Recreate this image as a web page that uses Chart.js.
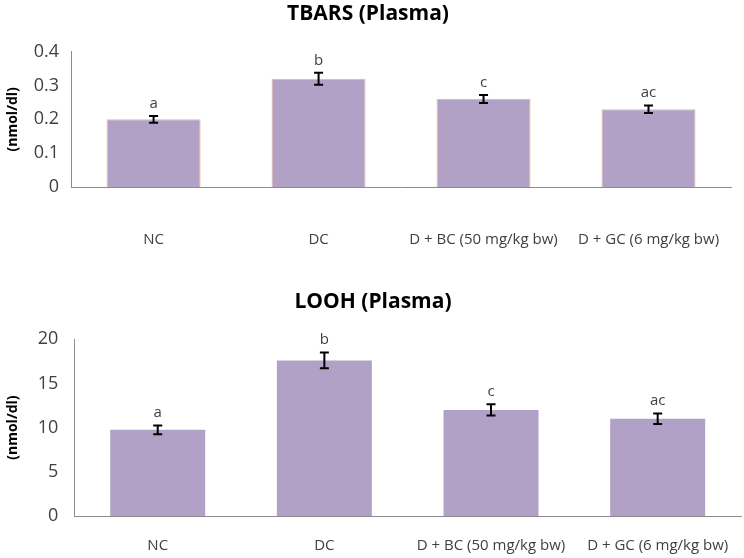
<!DOCTYPE html>
<html>
<head>
<meta charset="utf-8">
<script src="https://cdn.jsdelivr.net/npm/chart.js@4"></script>
<style>
  body { margin: 0; background: #fff; overflow: hidden; }
  .box { position: absolute; left: 0; width: 744px; }
  #boxTop { top: 0; height: 293px; }
  #boxBottom { top: 270px; height: 306px; }
</style>
</head>
<body>
<div class="box" id="boxTop"><canvas id="graficoTbars"></canvas></div>
<div class="box" id="boxBottom"><canvas id="graficoLooh"></canvas></div>
<script>
const grupos = ['NC', 'DC', 'D + BC (50 mg/kg bw)', 'D + GC (6 mg/kg bw)'];

const tbarsValores = [0.20, 0.32, 0.26, 0.23];
const tbarsErros = [0.010, 0.018, 0.012, 0.011];
const tbarsLetras = ['a', 'b', 'c', 'ac'];

const loohValores = [9.75, 17.6, 12.0, 11.0];
const loohErros = [0.5, 0.9, 0.63, 0.6];
const loohLetras = ['a', 'b', 'c', 'ac'];

const fonte = "'Open Sans', sans-serif";

// desenha as barras de erro e as letras acima de cada barra
const errosPlugin = {
    id: 'erros',
    afterDatasetsDraw(chart, args, opts) {
        const ctx = chart.ctx;
        const meta = chart.getDatasetMeta(0);
        const y = chart.scales.y;
        ctx.save();
        meta.data.forEach((bar, i) => {
            const v = opts.valores[i];
            const e = opts.erros[i];
            const yTop = y.getPixelForValue(v + e);
            const yBot = y.getPixelForValue(v - e);
            const x = bar.x;
            ctx.strokeStyle = '#000';
            ctx.lineWidth = 2;
            ctx.beginPath();
            ctx.moveTo(x, yTop); ctx.lineTo(x, yBot);
            ctx.moveTo(x - 4.5, yTop); ctx.lineTo(x + 4.5, yTop);
            ctx.moveTo(x - 4.5, yBot); ctx.lineTo(x + 4.5, yBot);
            ctx.stroke();

            ctx.fillStyle = '#404040';
            ctx.font = '15px ' + fonte;
            ctx.textAlign = 'center';
            ctx.textBaseline = 'alphabetic';
            ctx.fillText(opts.letras[i], x, yTop - 8);
        });
        ctx.restore();
    }
};

function criarGrafico(id, titulo, valores, erros, letras, max, passo, borda, padTitulo, alturaX, padY, padding) {
    const ctx = document.getElementById(id).getContext('2d');
    return new Chart(ctx, {
        type: 'bar',
        data: {
            labels: grupos,
            datasets: [{
                data: valores,
                backgroundColor: '#b2a1c7',
                borderColor: borda,
                borderWidth: borda ? 1 : 0,
                categoryPercentage: 0.57,
                barPercentage: 1
            }]
        },
        plugins: [errosPlugin],
        options: {
            responsive: true,
            maintainAspectRatio: false,
            animation: false,
            layout: { padding: padding },
            plugins: {
                legend: { display: false },
                tooltip: { enabled: false },
                title: {
                    display: true,
                    text: titulo,
                    color: '#000',
                    font: { family: fonte, size: 21, weight: 'bold' },
                    padding: padTitulo
                },
                erros: { valores: valores, erros: erros, letras: letras }
            },
            scales: {
                x: {
                    grid: { display: false, drawTicks: false },
                    border: { display: true, color: '#8c8c8c', width: 1 },
                    ticks: {
                        color: '#404040',
                        // lineHeight grande = distancia entre eixo e rotulos
                        font: { family: fonte, size: 15, lineHeight: alturaX + 'px' },
                        padding: 2,
                        maxRotation: 0,
                        autoSkip: false
                    }
                },
                y: {
                    min: 0,
                    max: max,
                    grid: { display: false, drawTicks: false },
                    border: { display: true, color: '#8c8c8c', width: 1 },
                    ticks: {
                        stepSize: passo,
                        color: '#404040',
                        font: { family: fonte, size: 18 },
                        padding: padY
                    },
                    title: {
                        display: true,
                        text: '(nmol/dl)',
                        color: '#000',
                        font: { family: fonte, size: 14, weight: 'bold' },
                        padding: { top: 0, bottom: 0 }
                    }
                }
            }
        }
    });
}

criarGrafico('graficoTbars', 'TBARS (Plasma)', tbarsValores, tbarsErros, tbarsLetras,
    0.4, 0.1, '#f5b47e', { top: 1.5, bottom: 25 }, 102, 12, { left: 5, right: 13, bottom: 0 });
criarGrafico('graficoLooh', 'LOOH (Plasma)', loohValores, loohErros, loohLetras,
    20, 5, null, { top: 19, bottom: 25 }, 56, 16, { left: 5, right: 3, bottom: 0 });
</script>
</body>
</html>
